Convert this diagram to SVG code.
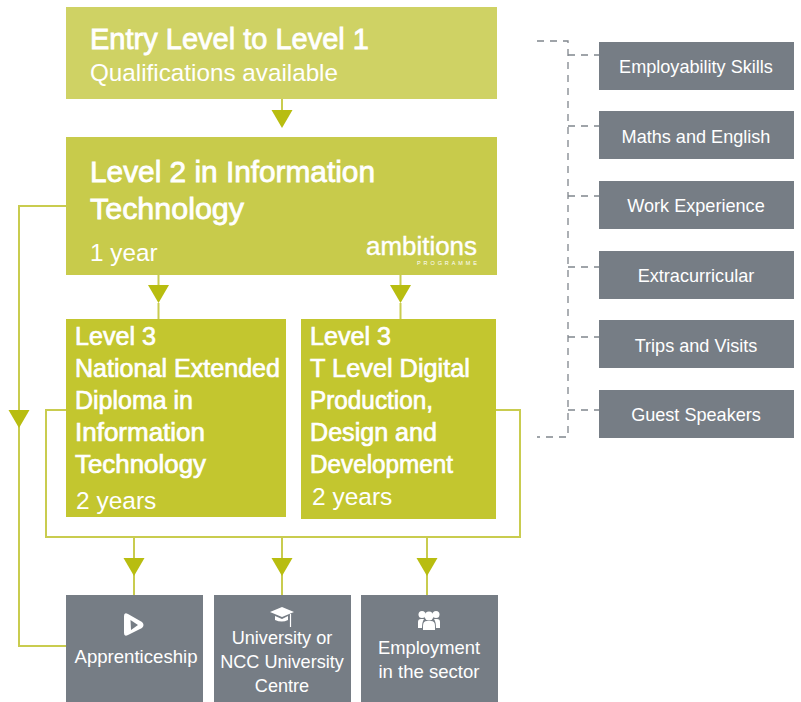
<svg xmlns="http://www.w3.org/2000/svg" width="801" height="702" viewBox="0 0 801 702">
<style>
text{font-family:"Liberation Sans",Arial,sans-serif;fill:#fff}
.t{font-size:29px;stroke:#fff;stroke-width:.8px}
.s{font-size:24.300px}
.m{font-size:25px;stroke:#fff;stroke-width:.7px}
.y{font-size:24.500px}
.g{font-size:18.100px;text-anchor:middle}
.l{fill:none;stroke:#c9cc4f;stroke-width:2}
.d{fill:none;stroke:#80868d;stroke-width:1.300;stroke-dasharray:7 6}
.a{fill:#b8bd10}
.b{fill:#767d85}
</style>
<defs><path id="ah" class="a" d="M-10.500 0H10.500L0 18Z"/></defs>
<g id="connectors">
<path class="l" d="M282 99V112M158.500 275V287M400.500 275V287"/>
<path class="l" d="M66 206H19V646H66"/>
<path class="l" d="M66 410H46V537H520V410H496"/>
<path class="l" d="M134 537V596M282 537V596M427 537V596"/>
<path class="l" d="M158.500 303V319M400.500 303V319"/>
<use href="#ah" x="282" y="110"/>
<use href="#ah" x="158.500" y="285"/>
<use href="#ah" x="400.500" y="285"/>
<use href="#ah" x="19" y="410"/>
<use href="#ah" x="134" y="558"/>
<use href="#ah" x="282" y="558"/>
<use href="#ah" x="427" y="558"/>
<path class="d" d="M537 41H568V437H537"/>
<path class="d" d="M568 55H599M568 126H599M568 196H599M568 267H599M568 337H599M568 410H599"/>
</g>
<g id="entry"><rect x="66" y="7" width="431" height="92" fill="#cfd264"/>
<text class="t" x="90" y="48.500" textLength="279" lengthAdjust="spacingAndGlyphs">Entry Level to Level 1</text><text class="s" x="90" y="81" textLength="248" lengthAdjust="spacingAndGlyphs">Qualifications available</text></g>
<g id="level2"><rect x="66" y="137" width="431" height="138" fill="#c8cb4b"/>
<text class="t" x="90" y="182" textLength="285" lengthAdjust="spacingAndGlyphs">Level 2 in Information</text><text class="t" x="90" y="219" textLength="154" lengthAdjust="spacingAndGlyphs">Technology</text><text class="s" x="90" y="261">1 year</text>
<text x="366" y="255" font-size="25" stroke="#fff" stroke-width=".4" textLength="111" lengthAdjust="spacingAndGlyphs">ambitions</text>
<text x="417" y="265" font-size="5.500" textLength="60">PROGRAMME</text></g>
<g id="l3a"><rect x="66" y="319" width="220" height="198" fill="#c3c62f"/>
<text class="m" x="75" y="345" textLength="81" lengthAdjust="spacingAndGlyphs">Level 3</text><text class="m" x="75" y="377" textLength="205" lengthAdjust="spacingAndGlyphs">National Extended</text><text class="m" x="75" y="409" textLength="118" lengthAdjust="spacingAndGlyphs">Diploma in</text><text class="m" x="75" y="441" textLength="130" lengthAdjust="spacingAndGlyphs">Information</text><text class="m" x="75" y="473" textLength="131" lengthAdjust="spacingAndGlyphs">Technology</text><text class="y" x="76" y="509">2 years</text></g>
<g id="l3b"><rect x="301" y="319" width="195" height="200" fill="#c3c62f"/>
<text class="m" x="310" y="345" textLength="81" lengthAdjust="spacingAndGlyphs">Level 3</text><text class="m" x="310" y="377" textLength="160" lengthAdjust="spacingAndGlyphs">T Level Digital</text><text class="m" x="310" y="409" textLength="123" lengthAdjust="spacingAndGlyphs">Production,</text><text class="m" x="310" y="441" textLength="127" lengthAdjust="spacingAndGlyphs">Design and</text><text class="m" x="310" y="473" textLength="143" lengthAdjust="spacingAndGlyphs">Development</text><text class="y" x="312" y="505">2 years</text></g>
<g id="skill1"><rect class="b" x="599" y="42" width="195" height="48"/><text class="g" x="696" y="73">Employability Skills</text></g>
<g id="skill2"><rect class="b" x="599" y="111" width="195" height="48"/><text class="g" x="696" y="143">Maths and English</text></g>
<g id="skill3"><rect class="b" x="599" y="181" width="195" height="48"/><text class="g" x="696" y="212">Work Experience</text></g>
<g id="skill4"><rect class="b" x="599" y="251" width="195" height="48"/><text class="g" x="696" y="282">Extracurricular</text></g>
<g id="skill5"><rect class="b" x="599" y="320" width="195" height="48"/><text class="g" x="696" y="352">Trips and Visits</text></g>
<g id="skill6"><rect class="b" x="599" y="390" width="195" height="48"/><text class="g" x="696" y="421">Guest Speakers</text></g>
<g id="apprenticeship"><rect class="b" x="66" y="595" width="137" height="107"/>
<path fill="#fff" fill-rule="evenodd" d="M124 616Q124 612 128 614L142 622Q145 625 142 628L128 635Q124 637 124 633ZM130.500 620L131 630L138 625Z"/>
<text class="g" x="136" y="663" textLength="123" lengthAdjust="spacingAndGlyphs">Apprenticeship</text></g>
<g id="university"><rect class="b" x="214" y="595" width="137" height="107"/>
<path fill="#fff" d="M282 607L294 612L282 617L270 612ZM275 616L282 619L288 616V620Q282 623 275 620Z"/><path stroke="#fff" stroke-width="1.200" d="M290.500 614V627"/>
<text class="g" x="282" y="644">University or</text><text class="g" x="282" y="668">NCC University</text><text class="g" x="282" y="692">Centre</text></g>
<g id="employment"><rect class="b" x="361" y="595" width="137" height="107"/>
<g fill="#fff"><circle cx="422" cy="614.500" r="3.500"/><circle cx="436" cy="614.500" r="3.500"/><circle cx="429" cy="616" r="4.500"/><path d="M418 628V622Q418 619 421 619H424Q422 622 422 628ZM440 628V622Q440 619 437 619H434Q436 622 436 628ZM423 630V626Q423 621 427 621H431Q435 621 435 626V630Z"/></g>
<text class="g" x="429" y="654" textLength="102" lengthAdjust="spacingAndGlyphs">Employment</text><text class="g" x="429" y="678" textLength="101" lengthAdjust="spacingAndGlyphs">in the sector</text></g>
</svg>
